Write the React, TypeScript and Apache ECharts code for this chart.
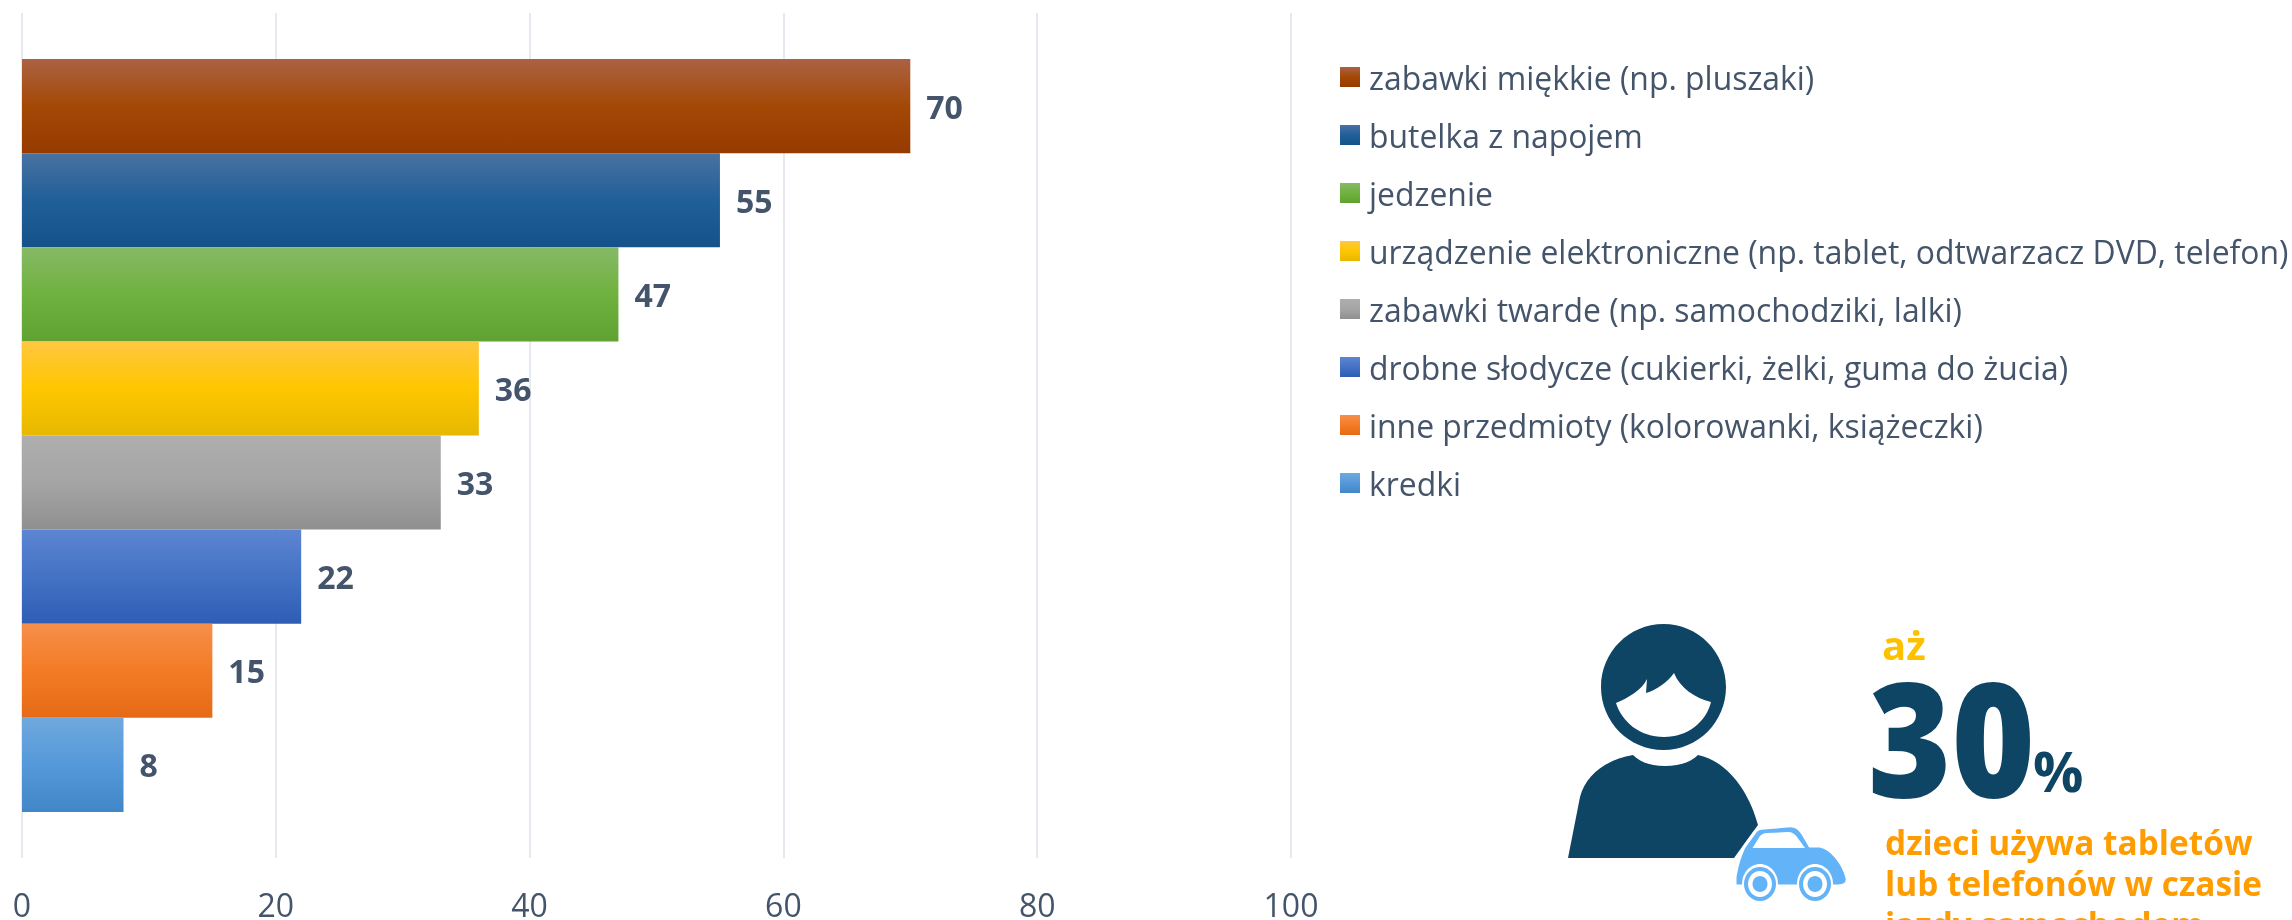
import React, { useEffect, useRef } from "react";
import * as echarts from "echarts";

const categories = [""];
const seriesNames = [
  "zabawki miękkie (np. pluszaki)",
  "butelka z napojem",
  "jedzenie",
  "urządzenie elektroniczne (np. tablet, odtwarzacz DVD, telefon)",
  "zabawki twarde (np. samochodziki, lalki)",
  "drobne słodycze (cukierki, żelki, guma do żucia)",
  "inne przedmioty (kolorowanki, książeczki)",
  "kredki",
];
const seriesValues = [70, 55, 47, 36, 33, 22, 15, 8];
const tickMin = 0;
const tickMax = 100;
const tickStep = 20;
const gradients = [
  ["#AB6243", "#A44806", "#963B00"],
  ["#4A72A2", "#205F98", "#15528A"],
  ["#86B966", "#70B23F", "#60A232"],
  ["#FFC741", "#FFC600", "#E6B800"],
  ["#AEAEAE", "#A5A5A5", "#8F8F8F"],
  ["#5D85D3", "#4472C4", "#2F5DB5"],
  ["#F68F4B", "#F47B25", "#E66A15"],
  ["#6FA8DC", "#5599DA", "#4186C6"],
];
const calloutLead = "aż";
const calloutNumber = "30";
const calloutUnit = "%";
const calloutLines = ["dzieci używa tabletów", "lub telefonów w czasie", "jazdy samochodem"];

const PERSON =
  "M1663.5 624C1629 624 1601 652 1601 687C1601 722 1629 750 1663.5 750C1698 750 1726 722 1726 687C1726 652 1698 624 1663.5 624Z" +
  "M1633 755C1641 763 1652 766 1665 766C1678 766 1690 763 1698 755C1730 762 1750 795 1758 825L1734 858L1568 858L1580 797C1586 775 1605 760 1633 755Z";
const FACE =
  "M1616 703C1628 698 1642 690 1647 679L1646 693C1656 690 1668 682 1674 673C1680 688 1695 698 1711 702C1706 722 1688 737 1664 737C1640 737 1622 722 1616 703Z";
const CAR =
  "M1735 877C1737 865 1740 855 1744 847L1755 832C1757 829 1760 828 1764 828L1788 826C1795 825 1800 829 1803 834L1810 846L1820 846C1832 848 1844 865 1847 878C1848 884 1844 886 1838 886L1790 886L1735 886Z";
const GLASS =
  "M1752.5 848L1760 836C1762 834 1764 833 1767 833L1788 832C1792 832 1795 834 1797 837L1805 848Z";

echarts.graphic.registerShape("personShape", echarts.graphic.extendPath(PERSON, {}) as any);
echarts.graphic.registerShape("faceShape", echarts.graphic.extendPath(FACE, {}) as any);
echarts.graphic.registerShape("carShape", echarts.graphic.extendPath(CAR, {}) as any);
echarts.graphic.registerShape("glassShape", echarts.graphic.extendPath(GLASS, {}) as any);

const FONT = "'Open Sans', sans-serif";
const INK = "#44546A";

const wheel = (cx: number, cy: number) => [
  { type: "ellipse", shape: { cx, cy, rx: 18, ry: 20 }, style: { fill: "#ffffff" } },
  { type: "ellipse", shape: { cx, cy, rx: 16, ry: 17 }, style: { fill: "#63B3F8" } },
  { type: "ellipse", shape: { cx, cy, rx: 12, ry: 13 }, style: { fill: "#ffffff" } },
  { type: "ellipse", shape: { cx, cy, rx: 7.5, ry: 8 }, style: { fill: "#63B3F8" } },
];

export default function App() {
  const ref = useRef<HTMLDivElement>(null);
  useEffect(() => {
    const chart = echarts.init(ref.current!, undefined, { renderer: "svg" });
    chart.setOption({
      animation: false,
      grid: { left: 22, right: 1001, top: 13, bottom: 61, containLabel: false },
      xAxis: {
        type: "value",
        min: tickMin,
        max: tickMax,
        interval: tickStep,
        position: "bottom",
        axisLine: { show: false },
        axisTick: { show: false },
        axisLabel: { color: INK, fontFamily: FONT, fontSize: 32, margin: 30 },
        splitLine: { show: true, lineStyle: { color: "#E6EAF0", width: 2 } },
      },
      yAxis: {
        type: "category",
        data: categories,
        inverse: true,
        axisLine: { show: false },
        axisTick: { show: false },
        axisLabel: { show: false },
      },
      legend: {
        left: 1340,
        top: 61,
        orient: "vertical",
        selectedMode: false,
        icon: "rect",
        itemWidth: 20,
        itemHeight: 20,
        itemGap: 26,
        padding: 0,
        data: seriesNames,
        textStyle: {
          color: INK,
          fontFamily: FONT,
          fontSize: 31.9,
          padding: [-8, 0, 0, 4],
          lineHeight: 20,
          height: 20,
        },
      },
      series: seriesNames.map((name, i) => ({
        name,
        type: "bar",
        barGap: 0,
        barCategoryGap: "10.9%",
        data: [seriesValues[i]],
        itemStyle: {
          color: new echarts.graphic.LinearGradient(0, 0, 0, 1, [
            { offset: 0, color: gradients[i][0] },
            { offset: 0.5, color: gradients[i][1] },
            { offset: 1, color: gradients[i][2] },
          ]),
        },
        label: {
          show: true,
          position: "right",
          distance: 16,
          color: INK,
          fontFamily: FONT,
          fontWeight: "bold",
          fontSize: 32,
        },
      })),
      graphic: {
        elements: [
          { type: "personShape", style: { fill: "#0E4564" } },
          { type: "faceShape", style: { fill: "#ffffff" } },
          { type: "carShape", style: { fill: "#63B3F8", stroke: "#ffffff", lineWidth: 3 } },
          { type: "glassShape", style: { fill: "#ffffff" } },
          ...wheel(1760, 884),
          ...wheel(1815, 884),
          {
            type: "text",
            x: 1882,
            y: 644,
            style: { text: calloutLead, fill: "#FFC000", font: `bold 40px ${FONT}`, verticalAlign: "middle" },
          },
          {
            type: "text",
            x: 1868,
            y: 735,
            scaleX: 0.89,
            style: { text: calloutNumber, fill: "#0E4564", font: `800 160px ${FONT}`, verticalAlign: "middle" },
          },
          {
            type: "text",
            x: 2033,
            y: 770,
            style: { text: calloutUnit, fill: "#0E4564", font: `bold 56px ${FONT}`, verticalAlign: "middle" },
          },
          ...calloutLines.map((text, i) => ({
            type: "text",
            x: 1885,
            y: 842 + i * 41,
            style: { text, fill: "#FF9D00", font: `bold 33.4px ${FONT}`, verticalAlign: "middle" },
          })),
        ],
      },
    });
    return () => chart.dispose();
  }, []);
  return <div ref={ref} style={{ position: "fixed", left: 0, top: 0, width: 2292, height: 920 }} />;
}
